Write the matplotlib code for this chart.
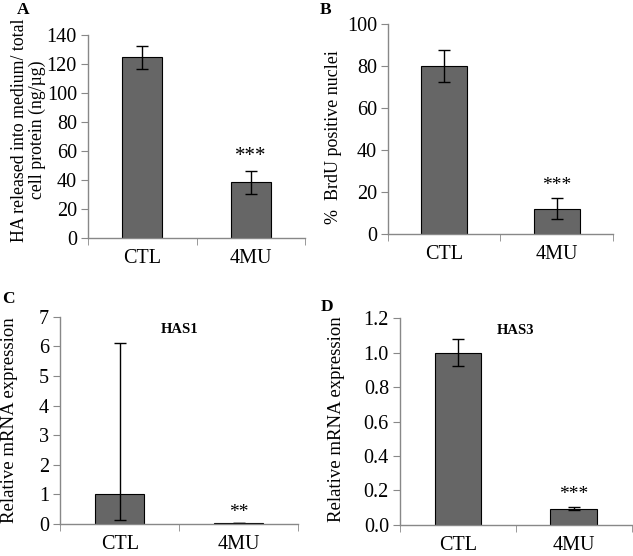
import matplotlib.pyplot as plt
import numpy as np

plt.rcParams['font.family'] = ['Liberation Serif', 'DejaVu Serif']

groups = ['CTL', '4MU']

# panel A: HA released
ha_vals = [124.5, 38.5]
ha_err = [8.0, 8.0]
# panel B: BrdU positive nuclei
brdu_vals = [80.0, 12.0]
brdu_err = [7.5, 5.0]
# panel C: HAS1 (asymmetric error on CTL)
has1_vals = [1.0, 0.03]
has1_err_lo = [0.85, 0.01]
has1_err_hi = [5.13, 0.015]
# panel D: HAS3
has3_vals = [1.0, 0.095]
has3_err = [0.077, 0.01]

bar_col = '#666666'
grey = '#888888'

fig = plt.figure(figsize=(6.33, 5.56), dpi=100)

def style(ax, ylim, yticks, fmt=None):
    ax.set_xlim(-0.5, 1.5)
    ax.set_ylim(*ylim)
    ax.set_yticks(yticks)
    if fmt:
        ax.set_yticklabels([fmt.format(t) for t in yticks])
    ax.set_xticks([0, 1])
    ax.set_xticklabels(groups)
    ax.set_xticks([-0.5, 0.5, 1.5], minor=True)
    ax.tick_params(axis='x', which='major', length=0, pad=8, labelsize=14.5)
    ax.tick_params(axis='x', which='minor', length=5, color=grey, direction='out')
    ax.tick_params(axis='y', length=5, color=grey, labelsize=14.5, pad=3)
    for s in ['top', 'right']:
        ax.spines[s].set_visible(False)
    for s in ['left', 'bottom']:
        ax.spines[s].set_color(grey)
        ax.spines[s].set_linewidth(1.0)

x = np.arange(len(groups))
ekw = dict(ecolor='black', elinewidth=1.0, capsize=4, capthick=1.0)

# A
axA = fig.add_axes([0.139, 0.572, 0.343, 0.365])
axA.bar(x, ha_vals, width=0.37, color=bar_col, edgecolor='black', linewidth=0.8,
        yerr=ha_err, error_kw=ekw)
style(axA, (0, 140), range(0, 141, 20))
axA.set_ylabel('HA released into medium/ total\ncell protein (ng/\u00b5g)', fontsize=12.8,
               linespacing=1.0)
axA.yaxis.set_label_coords(-0.195, 0.532)
axA.text(1, ha_vals[1] + ha_err[1] + 3, '***', ha='center', va='bottom', fontsize=15)
fig.text(0.027, 0.997, 'A', fontsize=12.5, fontweight='bold', va='top')

# B
axB = fig.add_axes([0.613, 0.579, 0.355, 0.378])
axB.bar(x, brdu_vals, width=0.41, color=bar_col, edgecolor='black', linewidth=0.8,
        yerr=brdu_err, error_kw=ekw)
style(axB, (0, 100), range(0, 101, 20))
axB.set_ylabel('%  BrdU positive nuclei', fontsize=13)
axB.yaxis.set_label_coords(-0.204, 0.46)
axB.text(1, brdu_vals[1] + brdu_err[1] + 2, '***', ha='center', va='bottom', fontsize=14)
fig.text(0.505, 0.997, 'B', fontsize=12.5, fontweight='bold', va='top')

# C
axC = fig.add_axes([0.095, 0.0576, 0.376, 0.3724])
axC.bar(x, has1_vals, width=0.41, color=bar_col, edgecolor='black', linewidth=0.8,
        yerr=[has1_err_lo, has1_err_hi], error_kw=ekw)
style(axC, (0, 7), range(0, 8))
axC.set_ylabel('Relative mRNA expression', fontsize=13.5)
axC.yaxis.set_label_coords(-0.176, 0.50)
axC.text(1, 0.1, '**', ha='center', va='bottom', fontsize=14)
axC.text(0.5, 0.97, 'HAS1', transform=axC.transAxes, ha='center', va='top',
         fontsize=10.5, fontweight='bold')
fig.text(0.003, 0.477, 'C', fontsize=12.5, fontweight='bold', va='top')

# D
axD = fig.add_axes([0.632, 0.0558, 0.366, 0.3722])
axD.bar(x, has3_vals, width=0.405, color=bar_col, edgecolor='black', linewidth=0.8,
        yerr=has3_err, error_kw=ekw)
style(axD, (0, 1.2), np.arange(0, 1.21, 0.2), fmt='{:.1f}')
axD.set_ylabel('Relative mRNA expression', fontsize=13.5)
axD.yaxis.set_label_coords(-0.237, 0.51)
axD.text(1, has3_vals[1] + has3_err[1] + 0.02, '***', ha='center', va='bottom', fontsize=14)
axD.text(0.5, 0.97, 'HAS3', transform=axD.transAxes, ha='center', va='top',
         fontsize=10.5, fontweight='bold')
fig.text(0.506, 0.462, 'D', fontsize=12.5, fontweight='bold', va='top')

fig.savefig('out.png', dpi=100)
